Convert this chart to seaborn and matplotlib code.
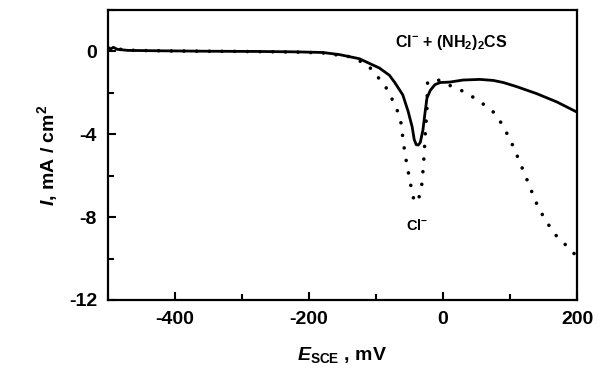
import matplotlib
matplotlib.use("Agg")
import matplotlib.pyplot as plt
import seaborn as sns
from matplotlib.ticker import MultipleLocator

# Polarisation curves (E in mV vs SCE, i in mA/cm2)
e_thiourea = [-500, -496, -492, -486, -470, -420, -350, -280, -220, -180, -155,
              -125, -95, -80, -72, -60, -52, -46, -43, -40, -37, -34, -30, -27,
              -24, -19, -12, -4, 10, 30, 55, 75, 90, 110, 140, 170, 200]
i_thiourea = [0.2, 0.12, 0.2, 0.1, 0.05, 0.03, 0.01, 0.0, -0.02, -0.05, -0.15,
              -0.35, -0.8, -1.15, -1.5, -2.1, -2.9, -3.65, -4.25, -4.5, -4.52,
              -4.4, -3.8, -3.0, -2.25, -1.88, -1.6, -1.5, -1.48, -1.38, -1.35,
              -1.4, -1.5, -1.7, -2.04, -2.44, -2.93]

e_chloride = [-500, -460, -400, -300, -220, -180, -140, -125, -112, -104, -90,
              -80, -74, -67, -63, -61, -57, -52, -49, -46, -43, -40, -37, -34,
              -31, -30, -28, -27, -26, -25, -24, -23.5, -23, -17, -9, 7, 22, 37,
              52, 67, 76, 84, 92, 100, 107, 114, 121, 128, 134, 140, 148, 157,
              166, 179, 193, 200]
i_chloride = [0.15, 0.05, 0.02, 0.0, -0.03, -0.07, -0.25, -0.45, -0.65, -1.0,
              -1.5, -2.0, -2.46, -2.94, -3.4, -3.9, -4.9, -5.8, -6.3, -6.85,
              -7.2, -7.3, -7.2, -6.8, -6.3, -5.8, -4.9, -4.3, -3.7, -3.3, -2.84,
              -2.0, -1.5, -1.38, -1.35, -1.6, -1.8, -2.04, -2.36, -2.7, -2.95,
              -3.3, -3.75, -4.25, -4.75, -5.3, -5.85, -6.4, -6.9, -7.37, -7.86,
              -8.34, -8.8, -9.2, -9.7, -9.85]

sns.set_style("ticks")
plt.rcParams["font.family"] = ["Liberation Sans", "DejaVu Sans"]
plt.rcParams["font.weight"] = "bold"
plt.rcParams["axes.unicode_minus"] = False
plt.rcParams["mathtext.fontset"] = "custom"
plt.rcParams["mathtext.rm"] = "Liberation Sans:bold"
plt.rcParams["mathtext.it"] = "Liberation Sans:italic:bold"
plt.rcParams["mathtext.bf"] = "Liberation Sans:bold"
for key in ["text.color", "axes.labelcolor", "xtick.color", "ytick.color",
            "axes.edgecolor"]:
    plt.rcParams[key] = "black"

fig = plt.figure(figsize=(6.01, 3.75), dpi=100)
ax = fig.add_axes([0.1797, 0.2, 0.7804, 0.7733])

sns.lineplot(x=e_thiourea, y=i_thiourea, ax=ax, color="black",
             linewidth=2.0, sort=False)
sns.lineplot(x=e_chloride, y=i_chloride, ax=ax, color="black",
             linewidth=2.6, sort=False, linestyle=(0, (0.01, 3.5)),
             dash_capstyle="round")

ax.set_xlim(-500, 200)
ax.set_ylim(-12, 2)
ax.xaxis.set_major_locator(MultipleLocator(200))
ax.xaxis.set_minor_locator(MultipleLocator(100))
ax.set_yticks([0, -4, -8, -12])
ax.yaxis.set_minor_locator(MultipleLocator(2))
ax.tick_params(which="both", direction="in", width=1.5)
ax.tick_params(which="major", length=6, labelsize=14, pad=8)
ax.tick_params(which="minor", length=4)
for lab in ax.get_xticklabels() + ax.get_yticklabels():
    lab.set_fontweight("bold")
for sp in ax.spines.values():
    sp.set_visible(True)
    sp.set_linewidth(1.6)

ax.set_xlabel(r"$\mathit{E}_{\mathrm{SCE}}$ , mV", fontsize=14, fontweight="bold",
              labelpad=12)
ax.set_ylabel(r"$\mathit{I}$, mA / cm$^{2}$", fontsize=14, fontweight="bold",
              labelpad=6)

ax.text(13, 0.45, r"Cl$^{-}$ + (NH$_{2}$)$_{2}$CS", ha="center", va="center",
        fontsize=11.5, fontweight="bold")
ax.text(-39, -8.4, r"Cl$^{-}$", ha="center", va="center",
        fontsize=10.5, fontweight="bold")

fig.savefig("out.png", dpi=100)
